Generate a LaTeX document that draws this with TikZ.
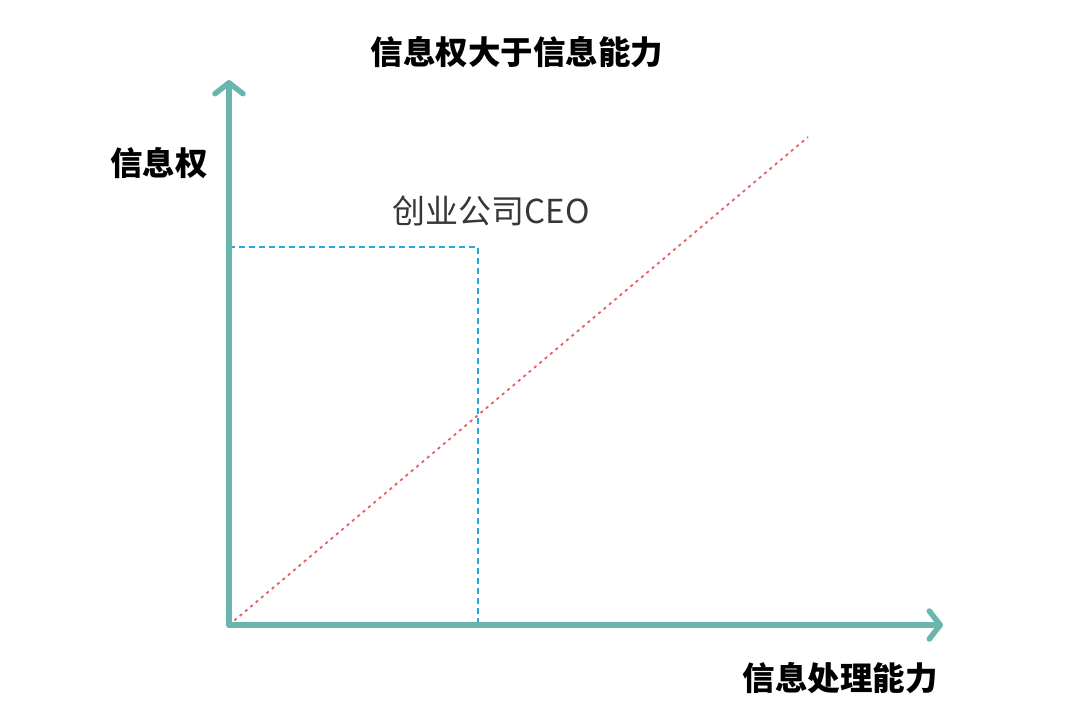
\documentclass[tikz,border=0pt]{standalone}
\usepackage{fontspec}
\newfontfamily\cjk{Noto Sans CJK SC}
\usetikzlibrary{arrows.meta}
\definecolor{axisteal}{RGB}{106,182,172}
\definecolor{dashblue}{RGB}{43,166,222}
\definecolor{dotred}{RGB}{226,96,100}
\definecolor{txtgray}{RGB}{55,55,55}
\tikzset{
  axis/.style={line width=5.5pt, color=axisteal, line cap=round,
    -{Straight Barb[length=11pt,width=28pt,line width=5.5pt,round]}},
  blueline/.style={dashblue, line width=2.3pt, dash pattern=on 6pt off 4pt},
  redline/.style={dotred, line width=1.8pt, dash pattern=on 3pt off 4pt},
  boldlabel/.style={font=\cjk\bfseries\fontsize{32.5}{32.5}\selectfont, text=black, inner sep=0pt},
  plainlabel/.style={font=\cjk\fontsize{33}{33}\selectfont, text=txtgray, inner sep=0pt}
}
\begin{document}
\begin{tikzpicture}[x=1pt,y=-1pt]
\useasboundingbox (0,0) rectangle (1080,725);
\coordinate (o) at (229,625);
\coordinate (ytop) at (229,80);
\coordinate (xend) at (943,625);
\coordinate (rend) at (808,137);
\coordinate (bcorner) at (478,247);
\coordinate (bleft) at (229,247);
\coordinate (bbottom) at (478,625);
\draw[blueline] (bleft) -- (bcorner) -- (bbottom);
\draw[redline] (o) -- (rend);
\draw[axis] (o) -- (ytop);
\draw[axis] (o) -- (xend);
\node[boldlabel] (title) at (517,52) {信息权大于信息能力};
\node[boldlabel] (ylab) at (159,163) {信息权};
\node[boldlabel] (xlab) at (840,678) {信息处理能力};
\node[plainlabel] (ceo) at (491,211) {创业公司CEO};
\end{tikzpicture}
\end{document}
